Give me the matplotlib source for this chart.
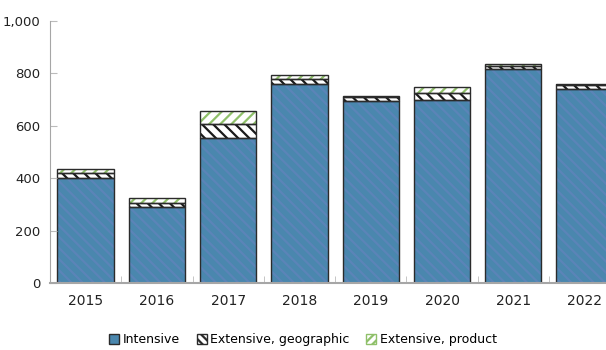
import matplotlib.pyplot as plt
import numpy as np
from matplotlib.patches import Patch

plt.rcParams['font.family'] = ['DejaVu Sans']
plt.rcParams['hatch.linewidth'] = 1.6

years = ['2015', '2016', '2017', '2018', '2019', '2020', '2021', '2022']
intensive = [402, 290, 555, 758, 696, 697, 816, 740]
ext_geographic = [18, 16, 51, 21, 14, 27, 12, 14]
ext_product = [16, 20, 50, 15, 4, 26, 8, 7]

blue = '#4a87ae'
green = '#8fc06a'
edge = '#2b2b2b'

fig = plt.figure(figsize=(6.06, 3.5), dpi=100)
ax = fig.add_axes([0.0825, 0.191, 0.941, 0.749])

x = np.arange(len(years))
w = 0.79
base2 = np.array(intensive)
base3 = base2 + np.array(ext_geographic)

# hatch colour comes from edgecolor, so draw fills first and outlines after
ax.bar(x, intensive, w, color=blue, edgecolor='#5b84b8', hatch='\\\\\\', linewidth=0)
ax.bar(x, ext_geographic, w, bottom=base2, color='white', edgecolor='#1a1a1a', hatch='\\\\\\', linewidth=0)
ax.bar(x, ext_product, w, bottom=base3, color='white', edgecolor=green, hatch='///', linewidth=0)
for vals, bot in [(intensive, 0), (ext_geographic, base2), (ext_product, base3)]:
    ax.bar(x, vals, w, bottom=bot, fill=False, edgecolor=edge, linewidth=1.0)

ax.set_xlim(-0.5, 7.5)
ax.set_ylim(0, 1000)
ax.set_yticks(range(0, 1001, 200))
ax.set_yticklabels(['0', '200', '400', '600', '800', '1,000'])
ax.set_xticks(x)
ax.set_xticklabels(years)
ax.set_xticks(np.arange(0.5, 7.5, 1), minor=True)
ax.tick_params(axis='x', which='major', length=0, pad=8, labelsize=10, labelcolor='#222222')
ax.tick_params(axis='x', which='minor', direction='in', length=5, color='#bbbbbb')
ax.tick_params(axis='y', direction='in', length=5, color='#bbbbbb', pad=7, labelsize=9.5, labelcolor='#222222')

for s in ['top', 'right']:
    ax.spines[s].set_visible(False)
for s in ['left', 'bottom']:
    ax.spines[s].set_color('#a6a6a6')
ax.spines['bottom'].set_linewidth(1.5)

handles = [
    Patch(facecolor=blue, edgecolor=edge, label='Intensive'),
    Patch(facecolor='white', edgecolor=edge, hatch='\\\\\\\\', label='Extensive, geographic'),
    Patch(facecolor='white', edgecolor=green, hatch='////', label='Extensive, product'),
]
fig.legend(handles=handles, loc='lower center', bbox_to_anchor=(0.5, -0.022), ncol=3,
           frameon=False, fontsize=9, handlelength=0.8, handleheight=0.8,
           handletextpad=0.3, columnspacing=1.3)

fig.savefig('out.png', dpi=100)
